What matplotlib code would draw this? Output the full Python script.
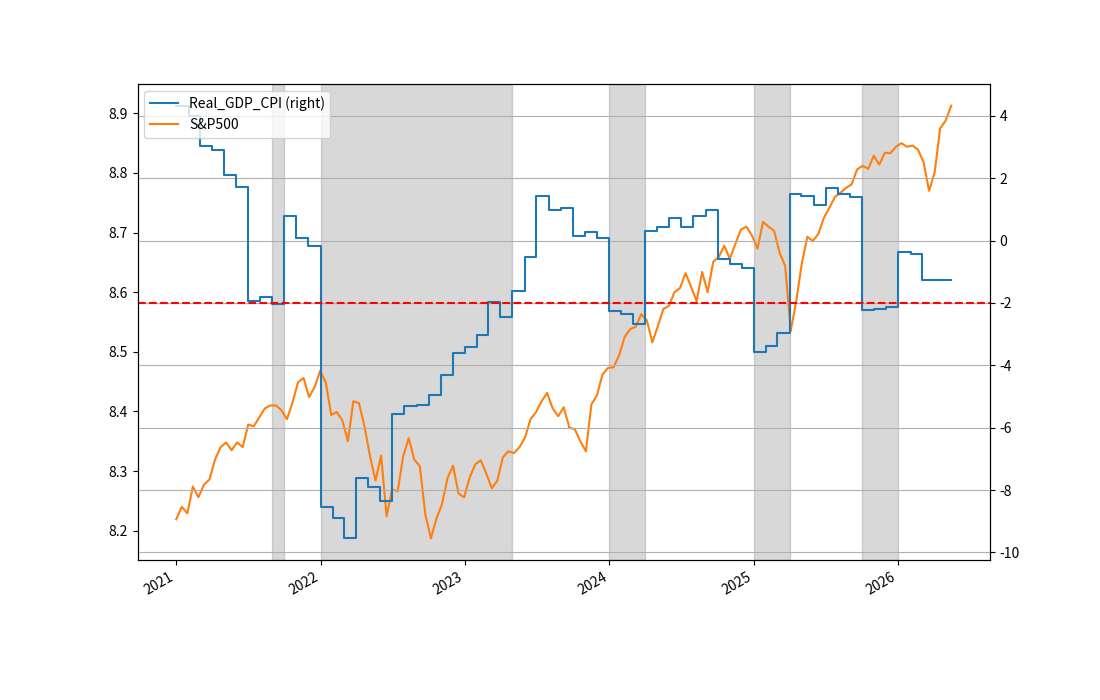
import numpy as np
import pandas as pd
import matplotlib
matplotlib.use('Agg')
import matplotlib.pyplot as plt

plt.rcParams['font.family'] = ['Noto Sans CJK KR', 'DejaVu Sans']
plt.rcParams['axes.unicode_minus'] = False

# S&P500 (log), every two weeks from 2021-01-01
sp500_start = '2021-01-01'
sp500 = [
    8.219, 8.240, 8.229, 8.274, 8.256, 8.277, 8.286, 8.319, 8.340, 8.348,
    8.335, 8.348, 8.340, 8.378, 8.375, 8.390, 8.405, 8.410, 8.410, 8.402,
    8.387, 8.415, 8.449, 8.456, 8.424, 8.441, 8.468, 8.449, 8.394, 8.399,
    8.385, 8.350, 8.417, 8.414, 8.375, 8.325, 8.284, 8.326, 8.224, 8.269,
    8.266, 8.325, 8.355, 8.319, 8.308, 8.227, 8.187, 8.220, 8.244, 8.288,
    8.309, 8.262, 8.256, 8.289, 8.311, 8.318, 8.296, 8.271, 8.284, 8.323,
    8.333, 8.330, 8.340, 8.356, 8.387, 8.399, 8.417, 8.431, 8.405, 8.392,
    8.407, 8.373, 8.370, 8.350, 8.333, 8.412, 8.427, 8.462, 8.473, 8.474,
    8.494, 8.525, 8.538, 8.542, 8.563, 8.553, 8.516, 8.543, 8.572, 8.577,
    8.600, 8.607, 8.632, 8.609, 8.585, 8.634, 8.600, 8.651, 8.659, 8.678,
    8.656, 8.681, 8.705, 8.710, 8.695, 8.673, 8.718, 8.710, 8.703, 8.666,
    8.644, 8.535, 8.585, 8.648, 8.693, 8.686, 8.698, 8.725, 8.742, 8.760,
    8.767, 8.775, 8.781, 8.806, 8.812, 8.807, 8.829, 8.814, 8.834, 8.833,
    8.844, 8.850, 8.844, 8.846, 8.839, 8.818, 8.770, 8.801, 8.875, 8.888,
    8.913,
]

# Real_GDP_CPI, monthly from 2021-01
gdp_start = '2021-01-01'
real_gdp_cpi = [
    4.33, 4.01, 3.05, 2.91, 2.11, 1.71, -1.93, -1.82, -2.04, 0.78, 0.09, -0.18,
    -8.55, -8.91, -9.55, -7.62, -7.91, -8.36, -5.55, -5.30, -5.28, -4.95, -4.31, -3.59,
    -3.41, -3.02, -1.98, -2.45, -1.61, -0.54, 1.42, 0.99, 1.04, 0.16, 0.28, 0.10,
    -2.27, -2.34, -2.68, 0.32, 0.45, 0.74, 0.45, 0.78, 0.98, -0.60, -0.74, -0.88,
    -3.57, -3.38, -2.95, 1.50, 1.44, 1.15, 1.68, 1.50, 1.39, -2.22, -2.18, -2.12,
    -0.38, -0.43, -1.27, -1.27, -1.27,
]

shade_periods = [
    ('2021-09-01', '2021-10-01'),
    ('2022-01-01', '2023-05-01'),
    ('2024-01-01', '2024-04-01'),
    ('2025-01-01', '2025-04-01'),
    ('2025-10-01', '2026-01-01'),
]
threshold = -2

sp_idx = pd.date_range(sp500_start, periods=len(sp500), freq='14D')
sp = pd.Series(sp500, index=sp_idx)
gdp_idx = pd.date_range(gdp_start, periods=len(real_gdp_cpi), freq='MS')
gdp = pd.Series(real_gdp_cpi, index=gdp_idx)
# hold the last monthly value until the last market date
gdp[sp.index[-1]] = gdp.iloc[-1]

fig, ax = plt.subplots(figsize=(11, 7), dpi=100)
ax2 = ax.twinx()

l2, = ax.plot(sp.index, sp.values, color='C1', label='S&P500')
for s, e in shade_periods:
    ax.axvspan(pd.Timestamp(s), pd.Timestamp(e), color='gray', alpha=0.3)

l1, = ax2.plot(gdp.index, gdp.values, color='C0', drawstyle='steps-post',
               label='Real_GDP_CPI (right)')
ax2.axhline(threshold, color='red', linestyle='--')
ax2.grid(axis='y')

ax2.legend(handles=[l1, l2], loc='upper left')
fig.autofmt_xdate()

fig.savefig('out.png')
